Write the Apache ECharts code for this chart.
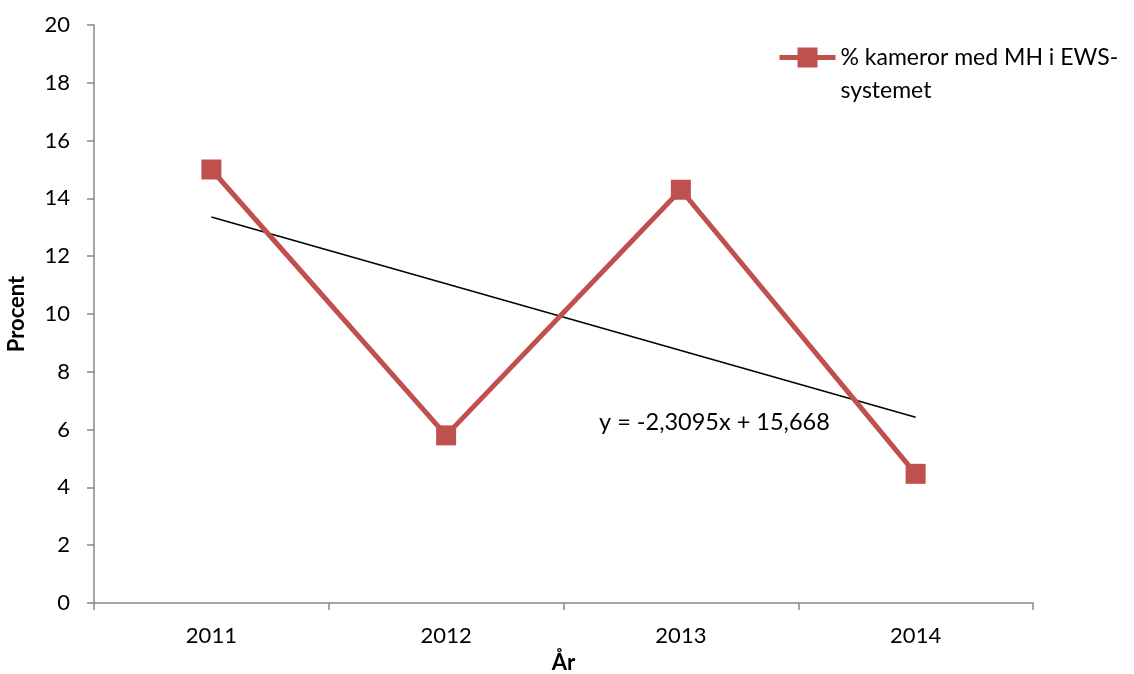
<!DOCTYPE html>
<html>
<head>
<meta charset="utf-8">
<script src="https://cdn.jsdelivr.net/npm/echarts@6/dist/echarts.min.js"></script>
<style>
  html, body { margin: 0; padding: 0; background: #fff; }
  #chart { width: 1134px; height: 674px; }
</style>
</head>
<body>
<div id="chart"></div>
<script>
// Share of cameras with MH in the EWS system, per year
const years = ['2011', '2012', '2013', '2014'];
const seriesName = '% kameror med MH i EWS-systemet';
const percent = [15.0, 5.8, 14.3, 4.47];

// Linear trend: y = slope * x + intercept, with x = 1..4 for the years
const trendSlope = -2.3095;
const trendIntercept = 15.668;
const trendLabel = 'y = -2,3095x + 15,668';

const trendValues = years.map((_, i) =>
  (i === 0 || i === years.length - 1) ? +(trendSlope * (i + 1) + trendIntercept).toFixed(4) : null
);

const FONT = 'Lato, "Open Sans", sans-serif';
const chart = echarts.init(document.getElementById('chart'), null, { renderer: 'canvas' });

chart.setOption({
  backgroundColor: '#ffffff',
  animation: false,
  grid: { left: 94, right: 101, top: 25, bottom: 71, containLabel: false, outerBoundsMode: 'none' },
  legend: {
    data: [seriesName],
    left: 772,
    top: 3,
    itemWidth: 56,
    itemHeight: 25,
    itemGap: 4,
    lineStyle: { width: 5, color: '#C0504D' },
    // empty first line keeps the icon level with the first text line
    formatter: () => ' \n% kameror med MH i EWS-\nsystemet',
    textStyle: { fontFamily: FONT, fontSize: 23, color: '#000', lineHeight: 33 }
  },
  xAxis: {
    type: 'category',
    data: years,
    boundaryGap: true,
    name: 'År',
    nameLocation: 'middle',
    nameGap: 49,
    nameTextStyle: { fontFamily: FONT, fontSize: 22, fontWeight: 'bold', color: '#000' },
    axisLine: { lineStyle: { color: '#888888', width: 1.5 } },
    axisTick: { show: true, length: 7, inside: false, lineStyle: { color: '#888888', width: 1.5 } },
    axisLabel: { fontFamily: FONT, fontSize: 22, color: '#000', margin: 22 },
    splitLine: { show: false }
  },
  yAxis: {
    type: 'value',
    min: 0,
    max: 20,
    interval: 2,
    name: 'Procent',
    nameLocation: 'middle',
    nameGap: 66,
    nameRotate: 90,
    nameTextStyle: { fontFamily: FONT, fontSize: 22, fontWeight: 'bold', color: '#000' },
    axisLine: { show: true, lineStyle: { color: '#888888', width: 1.5 } },
    axisTick: { show: true, length: 7, inside: false, lineStyle: { color: '#888888', width: 1.5 } },
    axisLabel: { fontFamily: FONT, fontSize: 22, color: '#000', margin: 24 },
    splitLine: { show: false }
  },
  series: [
    {
      name: seriesName,
      type: 'line',
      data: percent,
      color: '#C0504D',
      lineStyle: { color: '#C0504D', width: 5 },
      symbol: 'rect',
      symbolSize: 20,
      itemStyle: { color: '#C0504D' },
      z: 3
    },
    {
      name: 'Trend',
      type: 'line',
      data: trendValues,
      connectNulls: true,
      symbol: 'none',
      lineStyle: { color: '#000000', width: 1.5 },
      z: 2,
      silent: true
    }
  ],
  graphic: [
    {
      type: 'text',
      left: 599,
      top: 410,
      style: { text: trendLabel, fontFamily: FONT, fontSize: 23.5, fill: '#000' }
    }
  ]
});
</script>
</body>
</html>
